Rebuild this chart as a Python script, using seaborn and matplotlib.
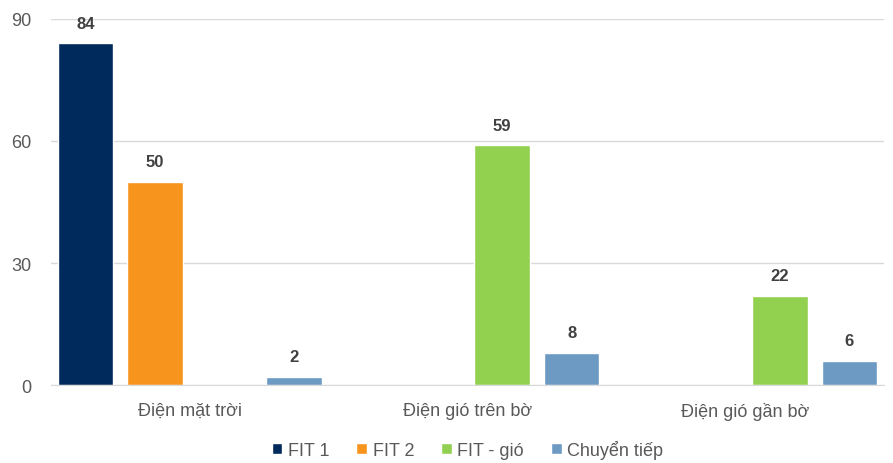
import pandas as pd
import numpy as np
import matplotlib
matplotlib.use("Agg")
import matplotlib.pyplot as plt
import seaborn as sns

categories = ["Điện mặt trời", "Điện gió trên bờ", "Điện gió gần bờ"]
series = ["FIT 1", "FIT 2", "FIT - gió", "Chuyển tiếp"]
fit1 = [84, None, None]
fit2 = [50, None, None]
fit_gio = [None, 59, 22]
chuyen_tiep = [2, 8, 6]
colors = ["#002A5C", "#F7941D", "#92D050", "#6C9AC3"]

# long format, drop empty combos
rows = []
for name, vals in zip(series, [fit1, fit2, fit_gio, chuyen_tiep]):
    for cat, v in zip(categories, vals):
        if v is not None:
            rows.append({"cat": cat, "series": name, "value": v})
df = pd.DataFrame(rows)

sns.set_style("white")
plt.rcParams['font.family'] = ['Liberation Sans', 'DejaVu Sans']

fig = plt.figure(figsize=(8.93, 4.64), dpi=100)
ax = fig.add_axes([0.057, 0.168, 0.933, 0.789])

sns.barplot(data=df, x="cat", y="value", hue="series", order=categories,
            hue_order=series, palette=colors, width=1.0, gap=0.2,
            saturation=1, ax=ax, legend=True)

for c in ax.containers:
    labels = [f"{v:.0f}" if not np.isnan(v) else "" for v in c.datavalues]
    ax.bar_label(c, labels=labels, padding=9, fontsize=12, fontweight="bold", color="#404040")

ax.set_ylim(0, 90)
ax.set_yticks([0, 30, 60, 90])
ax.set_xlim(-0.5, 2.5)
ax.yaxis.grid(True, color="#D9D9D9", linewidth=1)
ax.set_axisbelow(True)
for s in ["top", "right", "left"]:
    ax.spines[s].set_visible(False)
ax.spines["bottom"].set_color("#D9D9D9")
ax.tick_params(axis="both", length=0, labelsize=13, colors="#595959")
ax.tick_params(axis="y", pad=14)
ax.tick_params(axis="x", pad=12)
ax.set_xlabel("")
ax.set_ylabel("")

handles, labels = ax.get_legend_handles_labels()
ax.legend(handles, labels, loc="center", bbox_to_anchor=(0.5, -0.175),
          ncol=4, frameon=False, fontsize=13, handlelength=0.6, handleheight=0.6,
          handletextpad=0.3, columnspacing=1.5, labelcolor="#595959",
          borderpad=0)

fig.savefig("out.png", dpi=100)
